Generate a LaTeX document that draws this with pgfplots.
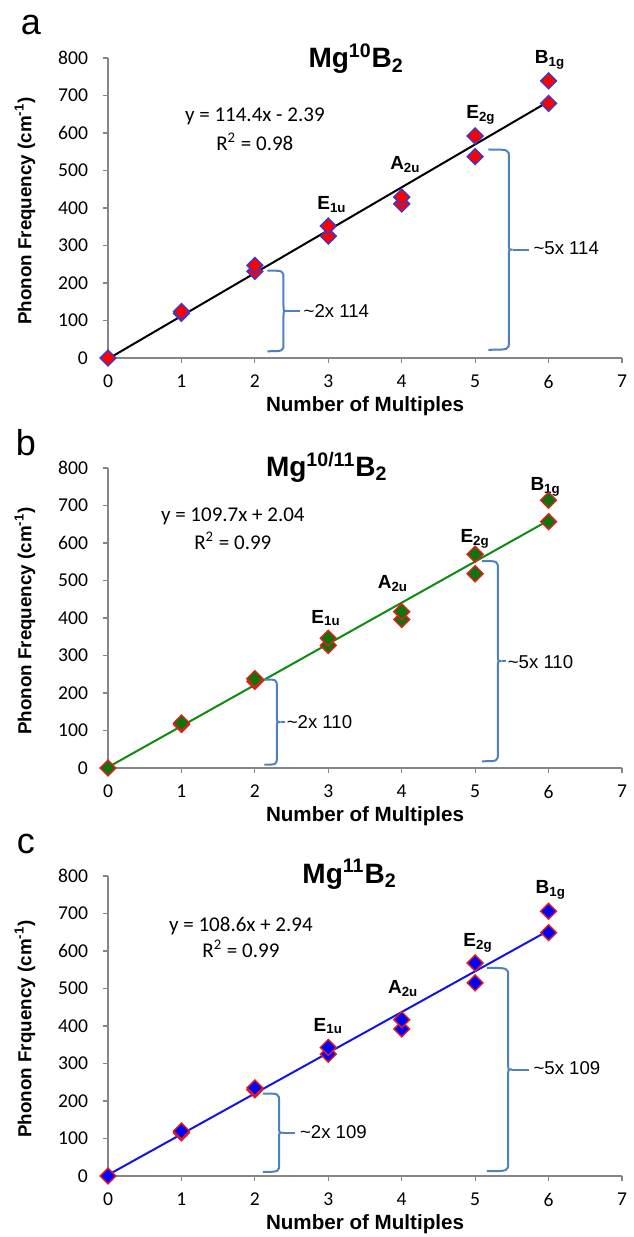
\documentclass[border=0pt]{standalone}
\usepackage{fontspec}
\setmainfont{Carlito}
\newfontfamily\arialf{Liberation Sans}
\usepackage{pgfplots}
\pgfplotsset{compat=1.18}

\definecolor{axisgray}{HTML}{868686}
\definecolor{bracecol}{HTML}{4F81BD}
\definecolor{mkblue}{HTML}{3A3ACF}
\definecolor{linegreen}{HTML}{108A10}
\definecolor{mkgreen}{HTML}{0C760C}
\definecolor{lineblue}{HTML}{1414E6}
\definecolor{mkred}{HTML}{E41C1C}

% bracket: #1 left x, #2 right x, #3 top, #4 bottom, #5 end of stub
\newcommand{\bracket}[5]{%
  \draw[bracecol, line width=1pt]
    (axis cs:#1,#3) .. controls (axis cs:#2,#3) .. (axis cs:#2,{#3-22})
    -- (axis cs:#2,{(#3+#4)/2+14})
    .. controls (axis cs:#2,{(#3+#4)/2}) .. (axis cs:{#2+0.05},{(#3+#4)/2})
    .. controls (axis cs:#2,{(#3+#4)/2}) .. (axis cs:#2,{(#3+#4)/2-14})
    -- (axis cs:#2,{#4+22})
    .. controls (axis cs:#2,#4) .. (axis cs:#1,#4);
  \draw[bracecol, line width=1pt] (axis cs:{#2+0.05},{(#3+#4)/2}) -- (axis cs:#5,{(#3+#4)/2});
}

\pgfplotsset{
  panel/.style={
    scale only axis, width=257pt, height=150pt,
    xmin=0, xmax=7, ymin=0, ymax=800,
    xtick={0,...,7}, ytick={0,100,...,800},
    axis x line*=bottom, axis y line*=left,
    axis line style={draw=axisgray, line width=0.6pt},
    tick style={draw=axisgray, line width=0.6pt},
    tick align=outside, major tick length=2.5pt,
    tick label style={font=\fontsize{9.8}{11}\selectfont},
    xticklabel style={yshift=-2.5pt},
    yticklabel style={xshift=-4pt},
    /pgf/number format/assume math mode=true,
    clip=false,
    xlabel={Number of Multiples},
    xlabel style={font=\arialf\bfseries\fontsize{10.3}{12}\selectfont,
      at={(axis description cs:0.5,-0.16)}, anchor=center},
    ylabel style={font=\arialf\bfseries\fontsize{9.4}{11}\selectfont,
      at={(axis description cs:-0.1615,0.49)}, anchor=center},
  },
}
\tikzset{
  ttl/.style={font=\arialf\bfseries\fontsize{14}{16}\selectfont, anchor=base},
  mode/.style={font=\arialf\bfseries\fontsize{9.5}{12}\selectfont},
  eqn/.style={font=\fontsize{10.5}{12}\selectfont},
  blab/.style={font=\arialf\fontsize{9.3}{11}\selectfont, anchor=west, inner sep=0pt},
  mk/.style={only marks, mark=square*, mark size=2.8pt},
}

\newcommand{\sub}[1]{\textsubscript{#1}}

\begin{document}
\begin{tikzpicture}

% ---------- a ----------
\begin{axis}[panel, at={(0,0)}, ylabel={Phonon Frequency (cm\textsuperscript{-1})}]
\addplot[mk, mark options={rotate=45, fill=red, draw=mkblue, line width=0.7pt}]
  coordinates {(0,0) (1,119) (1,124) (2,231) (2,247) (3,325) (3,352)
               (4,411) (4,429) (5,537) (5,592) (6,679) (6,739)};
\addplot[black, line width=1pt] coordinates {(0,-2.39) (6,684.01)};
\node[ttl] at (axis cs:3.38,774) {Mg\textsuperscript{10}B\sub{2}};
\node[eqn] at (axis cs:2.0,645) {y = 114.4x - 2.39};
\node[eqn] at (axis cs:2.0,576) {R\textsuperscript{2} = 0.98};
\node[mode] at (axis cs:3.05,408) {E\sub{1u}};
\node[mode] at (axis cs:4.05,515) {A\sub{2u}};
\node[mode] at (axis cs:5.08,648) {E\sub{2g}};
\node[mode] at (axis cs:6.02,795) {B\sub{1g}};
\bracket{2.17}{2.39}{233}{18}{2.61}
\node[blab] at (axis cs:2.66,124) {\textasciitilde2x 114};
\bracket{5.18}{5.46}{556}{22}{5.74}
\node[blab] at (axis cs:5.79,292) {\textasciitilde5x 114};
\end{axis}

% ---------- b ----------
\begin{axis}[panel, at={(0,-205pt)}, ylabel={Phonon Frequency (cm\textsuperscript{-1})}]
\addplot[mk, mark options={rotate=45, fill=mkgreen, draw=mkred, line width=0.7pt}]
  coordinates {(0,0) (1,116) (1,120) (2,231) (2,238) (3,327) (3,346)
               (4,396) (4,417) (5,518) (5,570) (6,657) (6,714)};
\addplot[linegreen, line width=1pt] coordinates {(0,2.04) (6,660.24)};
\node[ttl] at (axis cs:2.98,777) {Mg\textsuperscript{10/11}B\sub{2}};
\node[eqn] at (axis cs:1.70,672) {y = 109.7x + 2.04};
\node[eqn] at (axis cs:1.70,605) {R\textsuperscript{2} = 0.99};
\node[mode] at (axis cs:2.97,400) {E\sub{1u}};
\node[mode] at (axis cs:3.88,493) {A\sub{2u}};
\node[mode] at (axis cs:5.0,611) {E\sub{2g}};
\node[mode] at (axis cs:5.96,749) {B\sub{1g}};
\bracket{2.13}{2.30}{236}{9}{2.41}
\node[blab] at (axis cs:2.43,123) {\textasciitilde2x 110};
\bracket{5.09}{5.31}{552}{18}{5.42}
\node[blab] at (axis cs:5.44,283) {\textasciitilde5x 110};
\end{axis}

% ---------- c ----------
\begin{axis}[panel, at={(0,-409pt)}, ylabel={Phonon Frquency (cm\textsuperscript{-1})}]
\addplot[mk, mark options={rotate=45, fill=blue, draw=mkred, line width=0.7pt}]
  coordinates {(0,0) (1,115) (1,120) (2,230) (2,235) (3,325) (3,343)
               (4,392) (4,417) (5,515) (5,568) (6,649) (6,706)};
\addplot[lineblue, line width=1pt] coordinates {(0,2.94) (6,654.54)};
\node[ttl] at (axis cs:3.29,781) {Mg\textsuperscript{11}B\sub{2}};
\node[eqn] at (axis cs:1.81,667) {y = 108.6x + 2.94};
\node[eqn] at (axis cs:1.81,605) {R\textsuperscript{2} = 0.99};
\node[mode] at (axis cs:3.0,400) {E\sub{1u}};
\node[mode] at (axis cs:4.02,501) {A\sub{2u}};
\node[mode] at (axis cs:5.04,621) {E\sub{2g}};
\node[mode] at (axis cs:6.03,763) {B\sub{1g}};
\bracket{2.11}{2.33}{220}{11}{2.55}
\node[blab] at (axis cs:2.61,117) {\textasciitilde2x 109};
\bracket{5.16}{5.45}{555}{13}{5.74}
\node[blab] at (axis cs:5.79,288) {\textasciitilde5x 109};
\end{axis}

% panel letters
\node[font=\arialf\fontsize{18}{18}\selectfont, anchor=base] at (-38.5pt,161.5pt) {a};
\node[font=\arialf\fontsize{18}{18}\selectfont, anchor=base] at (-41pt,-48.5pt) {b};
\node[font=\arialf\fontsize{18}{18}\selectfont, anchor=base] at (-41pt,-247.5pt) {c};

\pgfresetboundingbox
\useasboundingbox (-54pt,179pt) rectangle (262.5pt,-439.5pt);
\end{tikzpicture}
\end{document}
